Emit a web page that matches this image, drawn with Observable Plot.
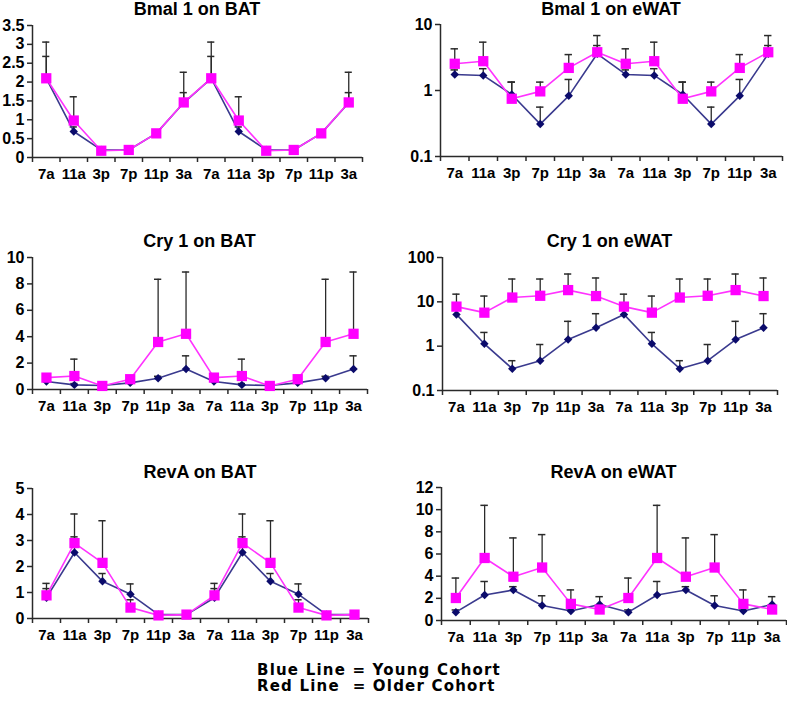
<!DOCTYPE html>
<html>
<head>
<meta charset="utf-8">
<script src="https://cdn.jsdelivr.net/npm/d3@7"></script>
<script src="https://cdn.jsdelivr.net/npm/@observablehq/plot@0.6"></script>
<style>
  html, body { margin: 0; padding: 0; background: #fff; }
  #chart { position: relative; width: 787px; height: 711px; overflow: hidden; background: #fff; }
  .panel { position: absolute; }
  .title { position: absolute; text-align: center; font-family: "Liberation Sans", Arial, sans-serif; font-weight: bold; font-size: 18px; line-height: 18px; color: #000; white-space: nowrap; }
  .legend { position: absolute; left: 257px; top: 662px; font-family: "DejaVu Sans", Verdana, sans-serif; font-weight: bold; font-size: 15px; line-height: 16px; letter-spacing: 1.2px; white-space: pre; color: #000; }
</style>
</head>
<body>
<div id="chart"></div>
<script>
// ---- data ----
const timeLabels = ["7a","11a","3p","7p","11p","3a","7a","11a","3p","7p","11p","3a"];

// Bmal 1 on BAT
const bmalBatYoung    = [2.1, 0.69, 0.2, 0.2, 0.64, 1.45, 2.1, 0.69, 0.2, 0.2, 0.64, 1.45];
const bmalBatYoungErr = [0.58, 0.12, 0.04, 0.04, 0.06, 0.27, 0.58, 0.12, 0.04, 0.04, 0.06, 0.27];
const bmalBatOld      = [2.1, 0.98, 0.18, 0.2, 0.64, 1.46, 2.1, 0.98, 0.18, 0.2, 0.64, 1.46];
const bmalBatOldErr   = [0.96, 0.63, 0.03, 0.03, 0.05, 0.8, 0.96, 0.63, 0.03, 0.03, 0.05, 0.8];
const bmalBatTicks    = [0, 0.5, 1, 1.5, 2, 2.5, 3, 3.5];

// Bmal 1 on eWAT (log)
const bmalWatYoung    = [1.75, 1.69, 0.87, 0.31, 0.83, 3.6, 1.75, 1.69, 0.87, 0.31, 0.83, 3.6];
const bmalWatYoungErr = [0.3, 0.45, 0.47, 0.25, 0.64, 1.2, 0.3, 0.45, 0.47, 0.25, 0.64, 1.2];
const bmalWatOld      = [2.54, 2.78, 0.75, 0.97, 2.2, 3.8, 2.54, 2.78, 0.75, 0.97, 2.2, 3.8];
const bmalWatOldErr   = [1.74, 2.62, 0.59, 0.37, 1.3, 3.0, 1.74, 2.62, 0.59, 0.37, 1.3, 3.0];
const bmalWatTicks    = [0.1, 1, 10];

// Cry 1 on BAT
const cryBatYoung     = [0.6, 0.35, 0.3, 0.5, 0.85, 1.55, 0.6, 0.35, 0.3, 0.5, 0.85, 1.55];
const cryBatYoungErr  = [0.1, 0.1, 0.05, 0.1, 0.15, 1.0, 0.1, 0.1, 0.05, 0.1, 0.15, 1.0];
const cryBatOld       = [0.9, 1.02, 0.27, 0.78, 3.6, 4.22, 0.9, 1.02, 0.27, 0.78, 3.6, 4.22];
const cryBatOldErr    = [0.1, 1.28, 0.05, 0.15, 4.75, 4.68, 0.1, 1.28, 0.05, 0.15, 4.75, 4.68];
const cryBatTicks     = [0, 2, 4, 6, 8, 10];

// Cry 1 on eWAT (log)
const cryWatYoung     = [5.2, 1.13, 0.31, 0.47, 1.41, 2.6, 5.2, 1.13, 0.31, 0.47, 1.41, 2.6];
const cryWatYoungErr  = [2.5, 0.91, 0.16, 0.62, 2.22, 2.8, 2.5, 0.91, 0.16, 0.62, 2.22, 2.8];
const cryWatOld       = [7.8, 5.7, 12.5, 13.7, 18.4, 13.5, 7.8, 5.7, 12.5, 13.7, 18.4, 13.5];
const cryWatOldErr    = [7.1, 7.8, 20.2, 19, 24, 21, 7.1, 7.8, 20.2, 19, 24, 21];
const cryWatTicks     = [0.1, 1, 10, 100];

// RevA on BAT
const revBatYoung     = [0.8, 2.54, 1.43, 0.93, 0.15, 0.15, 0.8, 2.54, 1.43, 0.93, 0.15, 0.15];
const revBatYoungErr  = [0.35, 0.6, 0.3, 0.4, 0.03, 0.03, 0.35, 0.6, 0.3, 0.4, 0.03, 0.03];
const revBatOld       = [0.89, 2.9, 2.14, 0.42, 0.12, 0.15, 0.89, 2.9, 2.14, 0.42, 0.12, 0.15];
const revBatOldErr    = [0.46, 1.12, 1.62, 0.3, 0.03, 0.03, 0.46, 1.12, 1.62, 0.3, 0.03, 0.03];
const revBatTicks     = [0, 1, 2, 3, 4, 5];

// RevA on eWAT
const revWatYoung     = [0.75, 2.3, 2.75, 1.35, 0.85, 1.45, 0.75, 2.3, 2.75, 1.35, 0.85, 1.45];
const revWatYoungErr  = [0.2, 1.22, 0.3, 0.88, 0.2, 0.7, 0.2, 1.22, 0.3, 0.88, 0.2, 0.7];
const revWatOld       = [2.03, 5.64, 3.95, 4.78, 1.5, 0.99, 2.03, 5.64, 3.95, 4.78, 1.5, 0.99];
const revWatOldErr    = [1.8, 4.75, 3.5, 2.97, 1.26, 0.2, 1.8, 4.75, 3.5, 2.97, 1.26, 0.2];
const revWatTicks     = [0, 2, 4, 6, 8, 10, 12];

// ---- styles ----
const youngLine = "#3a3a8e", youngDot = "#0b0b6b";
const oldLine = "#ff33ff", oldDot = "#ff00ff";
const axisColor = "#2a2a2a", errColor = "#2a2a2a";

const panels = [
  {title: "Bmal 1 on BAT", left: 0, top: 0, w: 390, h: 190, m: [25, 28, 33, 32], type: "linear", domain: [0, 3.5], ticks: bmalBatTicks, titleY: 9,
   young: bmalBatYoung, youngErr: bmalBatYoungErr, old: bmalBatOld, oldErr: bmalBatOldErr},
  {title: "Bmal 1 on eWAT", left: 390, top: 0, w: 397, h: 190, m: [24, 5, 34, 50], type: "log", domain: [0.1, 10], ticks: bmalWatTicks, titleY: 9,
   young: bmalWatYoung, youngErr: bmalWatYoungErr, old: bmalWatOld, oldErr: bmalWatOldErr},
  {title: "Cry 1 on BAT", left: 0, top: 220, w: 390, h: 210, m: [37, 23, 41, 32], type: "linear", domain: [0, 10], ticks: cryBatTicks, titleY: 241,
   young: cryBatYoung, youngErr: cryBatYoungErr, old: cryBatOld, oldErr: cryBatOldErr},
  {title: "Cry 1 on eWAT", left: 390, top: 220, w: 397, h: 210, m: [37, 10, 40, 52], type: "log", domain: [0.1, 100], ticks: cryWatTicks, titleY: 241,
   young: cryWatYoung, youngErr: cryWatYoungErr, old: cryWatOld, oldErr: cryWatOldErr},
  {title: "RevA on BAT", left: 0, top: 440, w: 390, h: 210, m: [48, 22, 32, 32], type: "linear", domain: [0, 5], ticks: revBatTicks, titleY: 472,
   young: revBatYoung, youngErr: revBatYoungErr, old: revBatOld, oldErr: revBatOldErr},
  {title: "RevA on eWAT", left: 390, top: 440, w: 397, h: 210, m: [47, 1, 30, 51], type: "linear", domain: [0, 12], ticks: revWatTicks, titleY: 472,
   young: revWatYoung, youngErr: revWatYoungErr, old: revWatOld, oldErr: revWatOldErr}
];

const chart = document.getElementById("chart");
const n = timeLabels.length;

for (const p of panels) {
  const rows = timeLabels.map((t, i) => ({
    i, t, xc: i + 0.5,
    young: p.young[i], youngTop: p.young[i] + p.youngErr[i],
    old: p.old[i], oldTop: p.old[i] + p.oldErr[i]
  }));
  const [mt, mr, mb, ml] = p.m;
  const capHalf = 0.13;
  const svg = Plot.plot({
    width: p.w, height: p.h,
    marginTop: mt, marginRight: mr, marginBottom: mb, marginLeft: ml,
    style: {fontFamily: "'Liberation Sans', Arial, sans-serif", fontSize: "15px", fontWeight: "bold", color: "#000", background: "transparent", overflow: "visible"},
    x: {type: "linear", domain: [0, n], axis: null, label: null},
    y: {type: p.type, domain: p.domain, axis: null, label: null},
    marks: [
      // axes
      Plot.axisY({ticks: p.ticks, tickSize: 5, tickPadding: 3, tickFormat: d => String(d), stroke: axisColor, strokeWidth: 1.5, fontSize: 16, label: null}),
      Plot.axisX({ticks: d3.range(n + 1), tickSize: 5, tickFormat: () => "", stroke: axisColor, strokeWidth: 1.5, label: null}),
      Plot.axisX({ticks: rows.map(d => d.xc), tickSize: 0, tickPadding: 11, tickFormat: v => timeLabels[Math.floor(v)], label: null}),
      Plot.ruleY([p.domain[0]], {stroke: axisColor, strokeWidth: 1.5}),
      Plot.ruleX([0], {stroke: axisColor, strokeWidth: 1.5}),
      // error bars
      Plot.ruleX(rows, {x: "xc", y1: "young", y2: "youngTop", stroke: errColor, strokeWidth: 1.3}),
      Plot.ruleY(rows, {y: "youngTop", x1: d => d.xc - capHalf, x2: d => d.xc + capHalf, stroke: errColor, strokeWidth: 1.5}),
      Plot.ruleX(rows, {x: "xc", y1: "old", y2: "oldTop", stroke: errColor, strokeWidth: 1.3}),
      Plot.ruleY(rows, {y: "oldTop", x1: d => d.xc - capHalf, x2: d => d.xc + capHalf, stroke: errColor, strokeWidth: 1.5}),
      // young cohort
      Plot.line(rows, {x: "xc", y: "young", stroke: youngLine, strokeWidth: 1.6}),
      Plot.dot(rows, {x: "xc", y: "young", symbol: "diamond2", fill: youngDot, stroke: "none", r: 3.8}),
      // older cohort
      Plot.line(rows, {x: "xc", y: "old", stroke: oldLine, strokeWidth: 1.6}),
      Plot.dot(rows, {x: "xc", y: "old", symbol: "square", fill: oldDot, stroke: "none", r: 5.8})
    ]
  });
  const holder = document.createElement("div");
  holder.className = "panel";
  holder.style.left = p.left + "px";
  holder.style.top = p.top + "px";
  holder.appendChild(svg);
  chart.appendChild(holder);

  const title = document.createElement("div");
  title.className = "title";
  title.textContent = p.title;
  title.style.left = (p.left + ml) + "px";
  title.style.width = (p.w - ml - mr) + "px";
  title.style.top = (p.titleY - 9) + "px";
  chart.appendChild(title);
}

const legend = document.createElement("div");
legend.className = "legend";
legend.textContent = "Blue Line = Young Cohort\nRed Line  = Older Cohort";
chart.appendChild(legend);
</script>
</body>
</html>
